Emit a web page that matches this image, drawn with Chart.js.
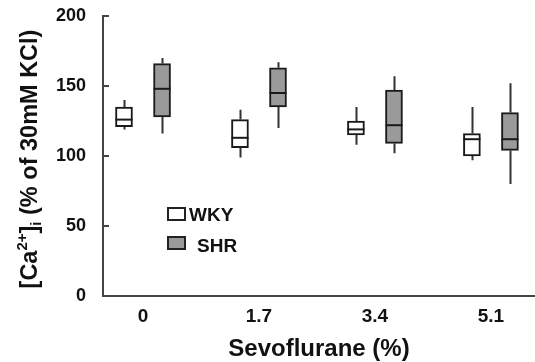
<!DOCTYPE html>
<html>
<head>
<meta charset="utf-8">
<script src="https://cdn.jsdelivr.net/npm/chart.js@4.4.1/dist/chart.umd.min.js"></script>
<style>
  html, body { margin: 0; padding: 0; background: #fff; }
  #wrap { width: 535px; height: 362px; }
</style>
</head>
<body>
<div id="wrap"><canvas id="c" width="535" height="362"></canvas></div>
<script>
// ---- data ----
const categories = ['0', '1.7', '3.4', '5.1'];
const seriesNames = ['WKY', 'SHR'];
const wkyMin    = [119,  99, 108,  97];
const wkyQ1     = [121, 106, 115, 100];
const wkyMedian = [126, 113, 119, 112];
const wkyQ3     = [135, 126, 125, 116];
const wkyMax    = [140, 133, 135, 135];
const shrMin    = [116, 120, 102,  80];
const shrQ1     = [128, 135, 109, 104];
const shrMedian = [148, 145, 122, 112];
const shrQ3     = [166, 163, 147, 131];
const shrMax    = [170, 167, 157, 152];
const yTicks = [0, 50, 100, 150, 200];

const OFFSET = 0.164;   // group offset of each box (in category units)
const FONT = "'Liberation Sans', Arial, sans-serif";

function boxData(idxOffset, q1, q3, med, mn, mx) {
  return categories.map((c, i) => ({ x: i + idxOffset, y: [q1[i], q3[i]], med: med[i], min: mn[i], max: mx[i] }));
}

const boxPlugin = {
  id: 'boxParts',
  beforeDatasetsDraw(chart) {
    const { ctx, scales: { x, y } } = chart;
    ctx.save();
    ctx.strokeStyle = '#333';
    ctx.lineWidth = 2;
    chart.data.datasets.forEach(ds => {
      ds.data.forEach(d => {
        const px = Math.round(x.getPixelForValue(d.x)) + 0.5;
        ctx.beginPath();
        ctx.moveTo(px, y.getPixelForValue(d.y[1]));
        ctx.lineTo(px, y.getPixelForValue(d.max));
        ctx.moveTo(px, y.getPixelForValue(d.y[0]));
        ctx.lineTo(px, y.getPixelForValue(d.min));
        ctx.stroke();
      });
    });
    ctx.restore();
  },
  afterDatasetsDraw(chart) {
    const { ctx, scales: { x, y }, chartArea } = chart;
    ctx.save();
    ctx.strokeStyle = '#1a1a1a';
    ctx.lineWidth = 2;
    chart.data.datasets.forEach((ds, di) => {
      const meta = chart.getDatasetMeta(di);
      ds.data.forEach((d, i) => {
        const bar = meta.data[i];
        const half = bar.width / 2;
        const py = y.getPixelForValue(d.med);
        ctx.beginPath();
        ctx.moveTo(bar.x - half, py);
        ctx.lineTo(bar.x + half, py);
        ctx.stroke();
      });
    });
    // inward y tick marks
    ctx.strokeStyle = '#444';
    ctx.lineWidth = 2;
    yTicks.forEach(v => {
      const py = Math.round(y.getPixelForValue(v));
      ctx.beginPath();
      ctx.moveTo(chartArea.left, py);
      ctx.lineTo(chartArea.left + 6, py);
      ctx.stroke();
    });
    // legend
    const lx = chartArea.left + 65, ly = chartArea.top + 192;
    chart.data.datasets.forEach((ds, di) => {
      const by = ly + di * 29;
      ctx.fillStyle = ds.backgroundColor;
      ctx.fillRect(lx, by, 17, 12);
      ctx.strokeStyle = '#222';
      ctx.lineWidth = 2;
      ctx.strokeRect(lx, by, 17, 12);
      ctx.fillStyle = '#111';
      ctx.font = 'bold 19px ' + FONT;
      ctx.textBaseline = 'middle';
      ctx.textAlign = 'left';
      ctx.fillText(ds.label, lx + 21 + di * 8, by + 8 + di * 2);
    });
    ctx.restore();
  },
  afterDraw(chart) {
    // y axis title with superscript / subscript
    const { ctx } = chart;
    const parts = [
      { t: '[Ca', s: 23.5, dy: 0 },
      { t: '2+', s: 15, dy: -8 },
      { t: ']', s: 23.5, dy: 0 },
      { t: 'i', s: 15, dy: 6 },
      { t: ' (% of 30mM KCl)', s: 23.5, dy: 0 }
    ];
    ctx.save();
    ctx.fillStyle = '#111';
    ctx.textBaseline = 'middle';
    ctx.textAlign = 'left';
    let total = 0;
    parts.forEach(p => { ctx.font = 'bold ' + p.s + 'px ' + FONT; p.w = ctx.measureText(p.t).width; total += p.w; });
    ctx.translate(30, 159);
    ctx.rotate(-Math.PI / 2);
    let cx = -total / 2;
    parts.forEach(p => {
      ctx.font = 'bold ' + p.s + 'px ' + FONT;
      ctx.fillText(p.t, cx, p.dy + 1);
      cx += p.w;
    });
    ctx.restore();
  }
};

new Chart(document.getElementById('c'), {
  type: 'bar',
  data: {
    datasets: [
      {
        label: seriesNames[0],
        data: boxData(-OFFSET, wkyQ1, wkyQ3, wkyMedian, wkyMin, wkyMax),
        backgroundColor: '#ffffff',
        borderColor: '#1a1a1a',
        borderWidth: 2,
        borderSkipped: false,
        barThickness: 17,
        grouped: false
      },
      {
        label: seriesNames[1],
        data: boxData(OFFSET, shrQ1, shrQ3, shrMedian, shrMin, shrMax),
        backgroundColor: '#9a9a9a',
        borderColor: '#1a1a1a',
        borderWidth: 2,
        borderSkipped: false,
        barThickness: 17,
        grouped: false
      }
    ]
  },
  options: {
    responsive: false,
    animation: false,
    events: [],
    layout: { padding: { top: 16, right: 0, bottom: 0, left: 0 } },
    plugins: { legend: { display: false }, tooltip: { enabled: false } },
    scales: {
      x: {
        type: 'linear',
        offset: false,
        min: -0.345,
        max: 3.38,
        afterBuildTicks: s => { s.ticks = categories.map((c, i) => ({ value: i })); },
        afterFit: s => { s.height = 66; },
        grid: { display: false, drawTicks: false, offset: false },
        border: { display: true, color: '#444', width: 2 },
        ticks: {
          padding: 9,
          color: '#111',
          font: { family: FONT, size: 19, weight: 'bold' },
          callback: v => categories[v],
          autoSkip: false,
          maxRotation: 0
        },
        title: {
          display: true,
          text: 'Sevoflurane (%)',
          color: '#111',
          font: { family: FONT, size: 24, weight: 'bold' },
          padding: { top: 0, bottom: -2 }
        }
      },
      y: {
        min: 0,
        max: 200,
        afterBuildTicks: s => { s.ticks = yTicks.map(v => ({ value: v })); },
        afterFit: s => { s.width = 103; s.paddingTop = 0; s.paddingBottom = 0; },
        grid: { display: false, drawTicks: false },
        border: { display: true, color: '#444', width: 2 },
        ticks: {
          padding: 17,
          color: '#111',
          font: { family: FONT, size: 18, weight: 'bold' }
        }
      }
    }
  },
  plugins: [boxPlugin]
});
</script>
</body>
</html>
